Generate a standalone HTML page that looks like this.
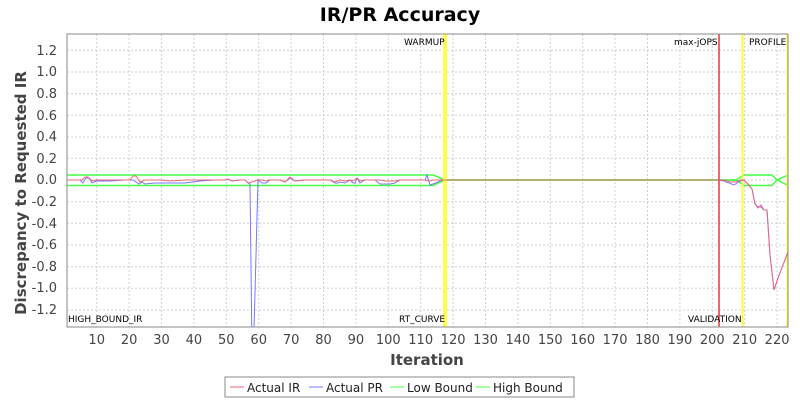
<!DOCTYPE html>
<html><head><meta charset="utf-8"><style>
body{margin:0;background:#fff;font-family:"Liberation Sans","DejaVu Sans",sans-serif}
</style></head><body>
<svg width="800" height="400" xmlns="http://www.w3.org/2000/svg" font-family="DejaVu Sans, Liberation Sans, sans-serif">
<defs><clipPath id="pa"><rect x="67" y="34" width="721" height="293"/></clipPath></defs>
<rect width="800" height="400" fill="#fff"/>
<text x="400" y="21" text-anchor="middle" font-size="19" font-weight="bold" fill="#000">IR/PR Accuracy</text>
<rect x="67" y="34" width="721" height="293" fill="#fff"/>
<g stroke="#d0d0d0" stroke-dasharray="2,2" stroke-width="1">
<line x1="67" x2="788" y1="50.3" y2="50.3"/><line x1="67" x2="788" y1="72" y2="72"/><line x1="67" x2="788" y1="93.6" y2="93.6"/><line x1="67" x2="788" y1="115.3" y2="115.3"/><line x1="67" x2="788" y1="137" y2="137"/><line x1="67" x2="788" y1="158.3" y2="158.3"/><line x1="67" x2="788" y1="180" y2="180"/><line x1="67" x2="788" y1="201.7" y2="201.7"/><line x1="67" x2="788" y1="223.3" y2="223.3"/><line x1="67" x2="788" y1="245" y2="245"/><line x1="67" x2="788" y1="266.7" y2="266.7"/><line x1="67" x2="788" y1="288.3" y2="288.3"/><line x1="67" x2="788" y1="310" y2="310"/>
<line y1="34" y2="327" x1="96.7" x2="96.7"/><line y1="34" y2="327" x1="129.1" x2="129.1"/><line y1="34" y2="327" x1="161.5" x2="161.5"/><line y1="34" y2="327" x1="193.9" x2="193.9"/><line y1="34" y2="327" x1="226.3" x2="226.3"/><line y1="34" y2="327" x1="258.7" x2="258.7"/><line y1="34" y2="327" x1="291.1" x2="291.1"/><line y1="34" y2="327" x1="323.5" x2="323.5"/><line y1="34" y2="327" x1="355.9" x2="355.9"/><line y1="34" y2="327" x1="388.3" x2="388.3"/><line y1="34" y2="327" x1="420.7" x2="420.7"/><line y1="34" y2="327" x1="453.1" x2="453.1"/><line y1="34" y2="327" x1="485.5" x2="485.5"/><line y1="34" y2="327" x1="517.9" x2="517.9"/><line y1="34" y2="327" x1="550.3" x2="550.3"/><line y1="34" y2="327" x1="582.7" x2="582.7"/><line y1="34" y2="327" x1="615.1" x2="615.1"/><line y1="34" y2="327" x1="647.5" x2="647.5"/><line y1="34" y2="327" x1="679.9" x2="679.9"/><line y1="34" y2="327" x1="712.3" x2="712.3"/><line y1="34" y2="327" x1="744.7" x2="744.7"/><line y1="34" y2="327" x1="777.1" x2="777.1"/>
</g>
<g clip-path="url(#pa)">
<polyline fill="none" stroke="#44ff44" stroke-width="1.5" points="67,175 433,175 445,180 717,180 736,180 744,175 772,175 777,180 788,175"/>
<polyline fill="none" stroke="#44ff44" stroke-width="1.5" points="67,185.5 433,185.5 445,180 736,180 744,185.5 772,185.5 777,180 788,185.5"/>
<rect x="443" y="34" width="4" height="293" fill="#ffff44"/>
<line x1="719" x2="719" y1="34" y2="327" stroke="#ee3333" stroke-width="1.5"/>
<line x1="742.5" x2="742.5" y1="34" y2="327" stroke="#ffff22" stroke-width="2"/>
<line x1="787.5" x2="787.5" y1="34" y2="327" stroke="#ffff22" stroke-width="2"/>
<polyline fill="none" stroke="#7777ff" stroke-width="1" points="67,180 80,180 83,183 86,178 89,178 92,183 96,181 110,181 125,180 130,180 133,180 136,182 139,184 142,182 145,184 155,183 170,183 185,183 200,181 215,180 225,180 228,179 232,181 240,180 245,180 248,183 250,184 252,350 254,330 258,180 262,183 266,183 270,180 280,180 285,182 290,178 295,181 305,180 310,180 325,180 330,180 335,183 338,183 340,182 345,183 350,180 353,183 355,183 357,178 360,183 365,180 375,180 380,184 385,184 390,184 395,183 400,180 410,180 425,180 427,175 430,185 433,184 438,182 442,180 500,180 600,180 717,180 724,181 734,185 740,181 744,180 748,184 752,189 755,204 758,207 761,207 764,210 767,210 770,255 774,290 778,278 783,265 788,252"/>
<polyline fill="none" stroke="#ee6677" stroke-width="1" points="67,180 82,180 85,177 88,177 92,181 96,180 125,180 130,180 133,176 136,176 140,182 145,180 155,180 160,180 170,181 185,180 200,180 215,180 225,180 228,179 232,181 240,180 245,180 248,183 252,182 258,180 262,180 266,181 270,180 280,180 285,182 290,177 295,181 305,180 325,180 330,180 335,182 340,180 345,181 350,180 353,181 357,178 360,181 365,180 380,180 385,181 395,181 400,180 425,180 430,181 433,180 442,180 600,180 717,180 724,180 730,182 736,182 740,180 744,180 748,184 752,189 755,204 758,208 761,205 764,210 767,210 770,255 774,290 778,278 783,265 788,252"/>
</g>
<rect x="67" y="34" width="721" height="293" fill="none" stroke="#888" stroke-width="1"/>
<g font-size="9" fill="#000">
<text x="404" y="45">WARMUP</text><text x="674" y="45">max-jOPS</text><text x="749" y="45">PROFILE</text>
<text x="68" y="322">HIGH_BOUND_IR</text><text x="399" y="322">RT_CURVE</text><text x="688" y="322">VALIDATION</text>
</g>
<g font-size="13" fill="#444" text-anchor="end">
<text x="57" y="55">1.2</text><text x="57" y="76">1.0</text><text x="57" y="98">0.8</text><text x="57" y="120">0.6</text><text x="57" y="141">0.4</text><text x="57" y="163">0.2</text><text x="57" y="184">0.0</text><text x="57" y="206">-0.2</text><text x="57" y="228">-0.4</text><text x="57" y="249">-0.6</text><text x="57" y="271">-0.8</text><text x="57" y="292">-1.0</text><text x="57" y="314">-1.2</text>
</g>
<g font-size="13" fill="#444" text-anchor="middle">
<text x="96.7" y="344">10</text><text x="129.1" y="344">20</text><text x="161.5" y="344">30</text><text x="193.9" y="344">40</text><text x="226.3" y="344">50</text><text x="258.7" y="344">60</text><text x="291.1" y="344">70</text><text x="323.5" y="344">80</text><text x="355.9" y="344">90</text><text x="388.3" y="344">100</text><text x="420.7" y="344">110</text><text x="453.1" y="344">120</text><text x="485.5" y="344">130</text><text x="517.9" y="344">140</text><text x="550.3" y="344">150</text><text x="582.7" y="344">160</text><text x="615.1" y="344">170</text><text x="647.5" y="344">180</text><text x="679.9" y="344">190</text><text x="712.3" y="344">200</text><text x="744.7" y="344">210</text><text x="777.1" y="344">220</text>
</g>
<text x="427" y="365" text-anchor="middle" font-size="15" font-weight="bold" fill="#444">Iteration</text>
<text transform="translate(26,193) rotate(-90)" text-anchor="middle" font-size="15" font-weight="bold" fill="#444">Discrepancy to Requested IR</text>
<rect x="225" y="377" width="349" height="20" fill="#fff" stroke="#888"/>
<g font-size="12" fill="#222">
<line x1="230" x2="244" y1="387" y2="387" stroke="#ee6677"/><text x="247" y="392">Actual IR</text>
<line x1="309" x2="323" y1="387" y2="387" stroke="#7777ff"/><text x="326" y="392">Actual PR</text>
<line x1="390" x2="404" y1="387" y2="387" stroke="#44ff44"/><text x="407" y="392">Low Bound</text>
<line x1="476" x2="490" y1="387" y2="387" stroke="#44ff44"/><text x="493" y="392">High Bound</text>
</g>
</svg>
</body></html>
